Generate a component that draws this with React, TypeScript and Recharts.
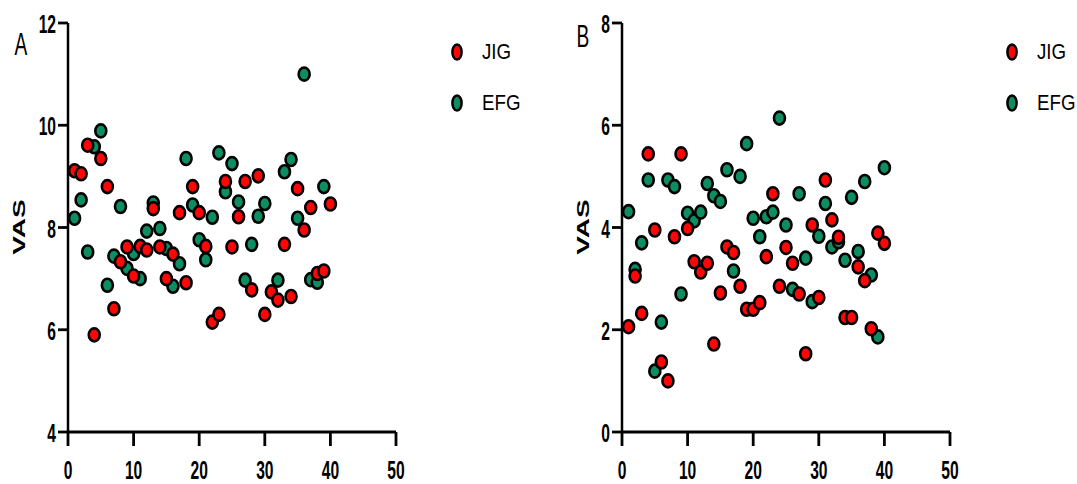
import { ScatterChart, Scatter, XAxis, YAxis, Legend } from 'recharts';

// subject number on the x axis, VAS score on the y axis
const aJigSubjects = [1, 2, 3, 4, 5, 6, 7, 8, 9, 10, 11, 12, 13, 14, 15, 16, 17, 18, 19, 20, 21, 22, 23, 24, 25, 26, 27, 28, 29, 30, 31, 32, 33, 34, 35, 36, 37, 38, 39, 40];
const aJigVas = [9.11, 9.05, 9.61, 5.9, 9.35, 8.8, 6.41, 7.33, 7.62, 7.05, 7.63, 7.56, 8.37, 7.62, 7.0, 7.48, 8.29, 6.92, 8.8, 8.29, 7.63, 6.15, 6.3, 8.9, 7.62, 8.21, 8.9, 6.78, 9.01, 6.3, 6.74, 6.58, 7.67, 6.65, 8.76, 7.95, 8.39, 7.1, 7.15, 8.46];
const aEfgSubjects = [1, 2, 3, 4, 5, 6, 7, 8, 9, 10, 11, 12, 13, 14, 15, 16, 17, 18, 19, 20, 21, 22, 23, 24, 25, 26, 27, 28, 29, 30, 32, 33, 34, 35, 36, 37, 38, 39];
const aEfgVas = [8.18, 8.54, 7.52, 9.58, 9.89, 6.87, 7.44, 8.41, 7.2, 7.49, 7.0, 7.93, 8.48, 7.98, 7.59, 6.85, 7.29, 9.35, 8.44, 7.76, 7.37, 8.2, 9.46, 8.7, 9.25, 8.5, 6.97, 7.67, 8.22, 8.47, 6.97, 9.09, 9.33, 8.18, 11.0, 6.98, 6.93, 8.8];

const bJigSubjects = [1, 2, 3, 4, 5, 6, 7, 8, 9, 10, 11, 12, 13, 14, 15, 16, 17, 18, 19, 20, 21, 22, 23, 24, 25, 26, 27, 28, 29, 30, 31, 32, 33, 34, 35, 36, 37, 38, 39, 40];
const bJigVas = [2.06, 3.05, 2.32, 5.44, 3.95, 1.37, 1.0, 3.82, 5.44, 3.98, 3.33, 3.13, 3.3, 1.72, 2.72, 3.62, 3.51, 2.85, 2.4, 2.4, 2.53, 3.43, 4.66, 2.85, 3.61, 3.3, 2.7, 1.53, 4.05, 2.63, 4.93, 4.15, 3.81, 2.24, 2.24, 3.23, 2.96, 2.02, 3.89, 3.69];
const bEfgSubjects = [1, 2, 3, 4, 5, 6, 7, 8, 9, 10, 11, 12, 13, 14, 15, 16, 17, 18, 19, 20, 21, 22, 23, 24, 25, 26, 27, 28, 29, 30, 31, 32, 33, 34, 35, 36, 37, 38, 39, 40];
const bEfgVas = [4.31, 3.18, 3.7, 4.93, 1.19, 2.15, 4.93, 4.8, 2.7, 4.28, 4.13, 4.3, 4.86, 4.62, 4.51, 5.13, 3.15, 5.0, 5.64, 4.18, 3.82, 4.21, 4.3, 6.14, 4.05, 2.79, 4.66, 3.4, 2.55, 3.83, 4.47, 3.62, 3.72, 3.36, 4.59, 3.53, 4.9, 3.07, 1.86, 5.17];

const xTicks = [0, 10, 20, 30, 40, 50];
const aYTicks = [4, 6, 8, 10, 12];
const bYTicks = [0, 2, 4, 6, 8];

const seriesNames = ['JIG', 'EFG'];
const RED = '#ff0606';
const GREEN = '#0c8d62';
const FONT = '"Liberation Sans", Arial, sans-serif';

const toPoints = (xs: number[], ys: number[]) => xs.map((x, i) => ({ x, y: ys[i] }));

const Dot = (props: any) => {
  const { cx, cy, fill } = props;
  if (cx == null || cy == null) return null;
  return <ellipse cx={cx} cy={cy} rx={5.5} ry={6.5} fill={fill} stroke="#000" strokeWidth={2.6} />;
};

const XTick = (props: any) => {
  const { x, y, payload } = props;
  return (
    <g transform={`translate(${x},${y}) scale(0.6,1)`}>
      <text x={0} y={31} textAnchor="middle" fontSize={26} fontWeight="bold" fontFamily={FONT} fill="#000">
        {payload.value}
      </text>
    </g>
  );
};

const YTick = (props: any) => {
  const { x, y, payload } = props;
  return (
    <g transform={`translate(${x},${y}) scale(0.6,1)`}>
      <text x={0} y={10} textAnchor="end" fontSize={26} fontWeight="bold" fontFamily={FONT} fill="#000">
        {payload.value}
      </text>
    </g>
  );
};

const LegendBox = () => (
  <div style={{ position: 'relative', width: 110, height: 100 }}>
    {seriesNames.map((name, i) => (
      <div key={name} style={{ position: 'absolute', left: 0, top: 12 + i * 51, height: 20 }}>
        <svg width={24} height={20} style={{ position: 'absolute', left: 5, top: 0 }}>
          <ellipse cx={12} cy={10} rx={4.6} ry={7.5} fill={i === 0 ? RED : GREEN} stroke="#000" strokeWidth={2.5} />
        </svg>
        <span
          style={{
            position: 'absolute',
            left: 42,
            top: -3,
            fontFamily: FONT,
            fontSize: 22,
            lineHeight: '26px',
            whiteSpace: 'nowrap',
            transform: 'scaleX(0.85)',
            transformOrigin: 'left center',
          }}
        >
          {name}
        </span>
      </div>
    ))}
  </div>
);

interface PanelProps {
  width: number;
  yWidth: number;
  marginRight: number;
  yDomain: [number, number];
  yTicks: number[];
  jig: { x: number; y: number }[];
  efg: { x: number; y: number }[];
  legendLeft: number;
}

function Panel({ width, yWidth, marginRight, yDomain, yTicks, jig, efg, legendLeft }: PanelProps) {
  return (
    <ScatterChart width={width} height={484} margin={{ top: 23, right: marginRight, bottom: 0, left: 0 }}>
      <XAxis
        type="number"
        dataKey="x"
        domain={[0, 50]}
        ticks={xTicks}
        height={52}
        tickSize={14}
        axisLine={{ stroke: '#000', strokeWidth: 3 }}
        tickLine={{ stroke: '#000', strokeWidth: 2.8 }}
        tick={<XTick />}
      />
      <YAxis
        type="number"
        dataKey="y"
        domain={yDomain}
        ticks={yTicks}
        width={yWidth}
        tickSize={10}
        axisLine={{ stroke: '#000', strokeWidth: 2.5 }}
        tickLine={{ stroke: '#000', strokeWidth: 2.8 }}
        tick={<YTick />}
      />
      <Legend
        layout="vertical"
        align="center"
        verticalAlign="middle"
        wrapperStyle={{ left: legendLeft, top: 30, width: 110, height: 100 }}
        content={() => <LegendBox />}
      />
      <Scatter name="EFG" data={efg} fill={GREEN} shape={<Dot />} isAnimationActive={false} legendType="circle" />
      <Scatter name="JIG" data={jig} fill={RED} shape={<Dot />} isAnimationActive={false} legendType="circle" />
    </ScatterChart>
  );
}

export default function App() {
  return (
    <div style={{ position: 'absolute', left: 0, top: 0, width: 1077, height: 484, background: '#fff', overflow: 'hidden' }}>
      <div style={{ position: 'absolute', left: 0, top: 0 }}>
        <Panel
          width={560}
          yWidth={68}
          marginRight={164}
          yDomain={[4, 12]}
          yTicks={aYTicks}
          jig={toPoints(aJigSubjects, aJigVas)}
          efg={toPoints(aEfgSubjects, aEfgVas)}
          legendLeft={440}
        />
      </div>
      <div style={{ position: 'absolute', left: 560, top: 0 }}>
        <Panel
          width={517}
          yWidth={62}
          marginRight={127}
          yDomain={[0, 8]}
          yTicks={bYTicks}
          jig={toPoints(bJigSubjects, bJigVas)}
          efg={toPoints(bEfgSubjects, bEfgVas)}
          legendLeft={435}
        />
      </div>
      <svg width={1077} height={484} style={{ position: 'absolute', left: 0, top: 0, pointerEvents: 'none' }}>
        <g fontFamily={FONT} fill="#000">
          <g transform="translate(21,55) scale(0.6,1)">
            <text textAnchor="middle" fontSize={32}>A</text>
          </g>
          <g transform="translate(583,47) scale(0.6,1)">
            <text textAnchor="middle" fontSize={32}>B</text>
          </g>
          <g transform="translate(19,227) scale(0.6,1) rotate(-90)">
            <text textAnchor="middle" y={10} fontSize={28} fontWeight="bold">VAS</text>
          </g>
          <g transform="translate(583,227) scale(0.6,1) rotate(-90)">
            <text textAnchor="middle" y={10} fontSize={28} fontWeight="bold">VAS</text>
          </g>
        </g>
      </svg>
    </div>
  );
}
